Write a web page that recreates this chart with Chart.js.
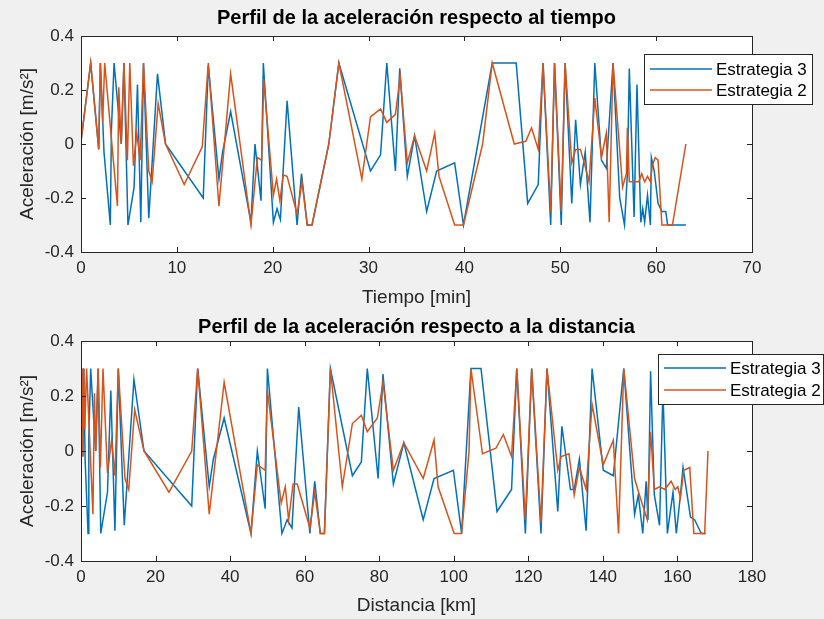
<!DOCTYPE html>
<html>
<head>
<meta charset="utf-8">
<script src="https://cdn.jsdelivr.net/npm/chart.js@4.4.0/dist/chart.umd.min.js"></script>
<style>
  html, body { margin: 0; padding: 0; background: #f0f0f0; }
  #wrap { position: relative; width: 824px; height: 619px; overflow: hidden; }
  canvas { position: absolute; left: 0; }
</style>
</head>
<body>
<div id="wrap">
  <canvas id="chart-tiempo" width="824" height="312" style="top:0"></canvas>
  <canvas id="chart-distancia" width="824" height="307" style="top:312px"></canvas>
</div>
<script>
// ── datos: [x, aceleración] ──
const tiempoE3 = [
  [0,0.01],[1.01,0.30],[1.85,-0.02],[2.02,0.30],[2.4,-0.03],[3.06,-0.30],[3.17,0.05],[3.45,0.30],[4.2,0.0],[4.48,0.30],
  [4.9,-0.30],[5.54,-0.16],[5.89,0.22],[6.24,-0.29],[6.52,0.30],[7.07,-0.275],[7.98,0.26],[8.82,0.0],[12.75,-0.20],[13.28,0.29],
  [14.39,-0.13],[14.77,-0.03],[15.61,0.12],[17.73,-0.29],[18.15,0.0],[18.78,-0.21],[19.02,0.30],[20.07,-0.29],[20.45,-0.24],[20.8,-0.28],
  [21.5,0.16],[22.54,-0.30],[23.0,-0.11],[23.6,-0.30],[24.1,-0.30],[25.85,0.0],[26.9,0.30],[30.2,-0.10],[31.25,-0.04],[31.9,0.30],
  [32.8,-0.10],[33.25,0.28],[34.04,-0.12],[34.8,0.03],[36.06,-0.25],[37.1,-0.10],[38.98,-0.07],[39.9,-0.30],[42.9,0.30],[45.4,0.30],
  [46.6,-0.22],[47.7,-0.15],[48.2,0.30],[49.0,-0.30],[49.4,0.30],[50.1,-0.30],[50.5,0.30],[51.2,-0.22],[51.6,0.09],[52.1,-0.15],
  [52.6,-0.03],[53.1,-0.29],[53.6,0.30],[54.3,-0.06],[54.8,-0.09],[55.5,0.30],[56.2,-0.20],[56.7,-0.30],[57.0,-0.11],[57.2,0.28],
  [57.7,-0.27],[58.0,0.22],[58.4,-0.29],[58.6,-0.24],[58.8,-0.29],[59.1,-0.19],[59.4,-0.30],[59.5,-0.05],[59.8,-0.10],[60.2,-0.22],
  [60.6,-0.25],[61.0,-0.25],[61.2,-0.30],[63.1,-0.30]
];
const tiempoE2 = [
  [0,0.01],[1.01,0.30],[1.85,-0.02],[2.02,0.30],[2.26,0.08],[2.47,0.30],[3.8,-0.23],[3.94,0.21],[4.2,0.0],[4.48,0.30],
  [4.84,-0.06],[5.09,0.30],[5.47,-0.08],[5.82,0.04],[6.17,-0.06],[6.52,0.30],[7.07,-0.10],[7.42,-0.14],[8.05,0.15],[8.82,0.0],
  [10.77,-0.15],[12.65,-0.01],[13.28,0.30],[14.39,-0.23],[15.61,0.26],[17.73,-0.30],[18.4,-0.05],[18.85,-0.06],[19.06,0.24],[20.07,-0.19],
  [20.4,-0.13],[20.75,-0.21],[21.1,-0.115],[21.5,-0.12],[22.54,-0.26],[23.06,-0.14],[23.6,-0.30],[24.1,-0.30],[25.85,0.0],[26.9,0.30],
  [29.3,-0.13],[30.2,0.10],[31.25,0.13],[31.9,0.08],[32.8,0.11],[33.3,0.25],[34.04,-0.07],[34.8,0.03],[36.06,-0.10],[36.9,0.04],
  [37.35,-0.12],[38.98,-0.30],[39.9,-0.30],[41.9,0.0],[42.9,0.30],[45.2,0.0],[46.4,0.01],[47.0,0.06],[47.7,-0.02],[48.2,0.30],
  [49.0,-0.25],[49.4,0.30],[50.1,-0.25],[50.5,0.30],[51.2,-0.07],[51.6,-0.02],[52.1,-0.02],[52.5,-0.07],[53.0,-0.14],[53.6,0.17],
  [54.3,-0.05],[54.8,0.04],[55.1,-0.29],[55.5,0.30],[56.5,-0.16],[56.9,-0.11],[57.0,0.06],[57.2,-0.14],[57.7,-0.14],[58.2,-0.14],
  [58.5,-0.11],[58.8,-0.14],[59.1,-0.12],[59.4,-0.14],[59.6,-0.08],[59.9,-0.05],[60.2,-0.06],[60.6,-0.30],[61.7,-0.30],[63.1,0.0]
];
const distE3 = [
  [0,0.01],[0.25,0.30],[0.5,-0.02],[0.75,0.30],[1.1,-0.03],[1.9,-0.30],[2.1,0.05],[2.6,0.30],[3.9,0.0],[4.6,0.30],
  [5.3,-0.30],[7.1,-0.15],[8.0,0.22],[9.1,-0.29],[10.0,0.30],[11.6,-0.27],[14.2,0.26],[16.9,0.0],[29.7,-0.20],[31.3,0.30],
  [34.4,-0.13],[35.5,-0.03],[38.4,0.12],[45.6,-0.30],[47.3,0.0],[49.4,-0.21],[50.0,0.30],[53.9,-0.30],[55.3,-0.25],[56.6,-0.28],
  [58.4,0.16],[61.4,-0.30],[62.7,-0.11],[64.2,-0.30],[65.3,-0.30],[66.9,0.30],[72.8,-0.09],[75.2,-0.04],[76.8,0.30],[79.7,-0.10],
  [81.0,0.28],[83.8,-0.12],[86.6,0.03],[91.8,-0.25],[94.7,-0.10],[99.9,-0.07],[102.1,-0.30],[104.6,0.30],[107.3,0.30],[111.6,-0.22],
  [115.5,-0.14],[116.9,0.30],[119.2,-0.30],[120.9,0.30],[123.4,-0.30],[125.0,0.30],[127.9,-0.22],[129.0,0.09],[131.3,-0.14],[132.3,-0.14],
  [133.7,-0.03],[135.5,-0.29],[137.1,0.30],[140.1,-0.07],[142.8,-0.09],[145.6,0.30],[148.5,-0.23],[149.5,-0.16],[150.7,-0.30],[151.6,-0.11],
  [152.1,-0.25],[152.8,0.29],[153.8,-0.16],[155.2,-0.27],[156.1,0.22],[157.3,-0.30],[158.8,-0.15],[159.7,-0.30],[160.8,-0.16],[161.5,-0.06],
  [163.5,-0.24],[164.6,-0.25],[166.4,-0.30],[167.6,-0.30]
];
const distE2 = [
  [0,0.01],[0.25,0.30],[0.5,-0.02],[0.75,0.30],[1.0,0.08],[1.5,0.30],[3.2,-0.23],[3.6,0.21],[4.0,0.0],[4.6,0.30],
  [5.2,-0.06],[5.9,0.30],[7.1,-0.08],[8.2,0.04],[9.1,-0.09],[10.0,0.30],[11.8,-0.10],[12.8,-0.14],[14.4,0.15],[16.9,0.0],
  [23.6,-0.15],[29.7,0.0],[31.3,0.30],[34.4,-0.23],[38.4,0.25],[45.6,-0.30],[47.3,-0.05],[49.4,-0.07],[50.0,0.22],[53.7,-0.19],
  [54.8,-0.13],[55.7,-0.25],[56.9,-0.12],[58.0,-0.12],[61.4,-0.28],[62.7,-0.15],[64.2,-0.30],[65.3,-0.30],[66.9,0.30],[70.1,-0.13],
  [72.8,0.10],[75.2,0.13],[76.8,0.07],[79.5,0.12],[81.0,0.25],[83.8,-0.07],[86.6,0.03],[91.8,-0.10],[94.7,0.04],[95.8,-0.13],
  [100.1,-0.30],[102.1,-0.30],[104.1,0.0],[104.6,0.30],[107.7,-0.01],[111.3,0.01],[113.3,0.06],[115.5,-0.02],[116.9,0.30],[119.2,-0.25],
  [120.9,0.30],[123.4,-0.26],[125.0,0.30],[127.9,-0.07],[128.8,-0.02],[130.9,-0.01],[132.3,-0.16],[133.7,-0.06],[135.5,-0.14],[137.1,0.17],
  [140.1,-0.05],[142.8,0.04],[144.2,-0.30],[145.6,0.30],[148.5,-0.10],[149.8,-0.16],[151.9,-0.25],[152.8,0.07],[153.8,-0.14],[155.2,-0.13],
  [156.6,-0.14],[158.3,-0.11],[159.4,-0.14],[160.1,-0.13],[160.8,-0.17],[161.7,-0.07],[163.3,-0.06],[164.4,-0.30],[167.3,-0.30],[168.2,0.0]
];
const series = ['Estrategia 3', 'Estrategia 2'];

const AZUL = '#0072BD';
const NARANJA = '#D95319';
const EJE = '#262626';
const FONT = "'Liberation Sans', Arial, Helvetica, sans-serif";

const toXY = arr => arr.map(p => ({ x: p[0], y: p[1] }));

/* ── caja estilo MATLAB: fondo blanco, marco, ticks hacia dentro y leyenda ── */
const ejesMatlab = {
  id: 'ejesMatlab',
  beforeDraw(chart) {
    const { ctx, chartArea: a } = chart;
    ctx.save();
    ctx.fillStyle = '#ffffff';
    ctx.fillRect(a.left, a.top, a.right - a.left, a.bottom - a.top);
    ctx.restore();
  },
  afterDraw(chart, args, opts) {
    const { ctx, chartArea: a, scales: { x, y } } = chart;
    ctx.save();
    ctx.strokeStyle = EJE;
    ctx.lineWidth = 1;
    ctx.beginPath();
    x.ticks.forEach(t => {
      const px = Math.round(x.getPixelForValue(t.value)) + 0.5;
      ctx.moveTo(px, a.bottom); ctx.lineTo(px, a.bottom - 5);
      ctx.moveTo(px, a.top); ctx.lineTo(px, a.top + 5);
    });
    y.ticks.forEach(t => {
      const py = Math.round(y.getPixelForValue(t.value)) + 0.5;
      ctx.moveTo(a.left, py); ctx.lineTo(a.left + 5, py);
      ctx.moveTo(a.right, py); ctx.lineTo(a.right - 5, py);
    });
    ctx.stroke();
    ctx.strokeRect(Math.round(a.left) + 0.5, Math.round(a.top) + 0.5,
      Math.round(a.right - a.left), Math.round(a.bottom - a.top));

    // leyenda
    const L = opts.legend;
    ctx.fillStyle = '#ffffff';
    ctx.fillRect(L.x, L.y, L.w, L.h);
    ctx.strokeRect(L.x + 0.5, L.y + 0.5, L.w, L.h);
    ctx.font = `17px ${FONT}`;
    ctx.textBaseline = 'middle';
    ctx.lineWidth = 1.5;
    const colors = [AZUL, NARANJA];
    series.forEach((name, i) => {
      const ry = L.y + L.rows[i];
      ctx.strokeStyle = colors[i];
      ctx.beginPath();
      ctx.moveTo(L.x + 6, ry); ctx.lineTo(L.x + 68, ry);
      ctx.stroke();
      ctx.fillStyle = '#000000';
      ctx.fillText(name, L.x + 72, ry + 1);
    });
    ctx.restore();
  }
};

function buildChart(id, cfg) {
  return new Chart(document.getElementById(id), {
    type: 'scatter',
    data: {
      datasets: [
        { label: series[0], data: toXY(cfg.e3), borderColor: AZUL, order: 1 },
        { label: series[1], data: toXY(cfg.e2), borderColor: NARANJA, order: 0 }
      ].map(d => ({ ...d, showLine: true, pointRadius: 0, borderWidth: 1.5, tension: 0, fill: false }))
    },
    options: {
      responsive: false,
      animation: false,
      events: [],
      layout: { padding: { left: 0, right: 72, top: 0, bottom: 0 } },
      plugins: {
        legend: { display: false },
        tooltip: { enabled: false },
        title: {
          display: true,
          fullSize: false,
          text: cfg.title,
          color: '#000000',
          font: { family: FONT, size: 20, weight: 'bold' },
          padding: cfg.titlePad
        },
        ejesMatlab: { legend: cfg.legend }
      },
      scales: {
        x: {
          type: 'linear',
          min: 0, max: cfg.xMax,
          grid: { display: false, drawTicks: false },
          border: { display: false },
          ticks: { stepSize: cfg.xStep, padding: 6, color: EJE, font: { family: FONT, size: 17 } },
          title: { display: true, text: cfg.xTitle, color: EJE, font: { family: FONT, size: 19 }, padding: { top: 0, bottom: cfg.xTitleBottom } },
          afterFit: s => { s.height = cfg.xHeight; }
        },
        y: {
          min: -0.4, max: 0.4,
          grid: { display: false, drawTicks: false },
          border: { display: false },
          ticks: { stepSize: 0.2, padding: 7, color: EJE, font: { family: FONT, size: 17 },
            callback: v => String(+v.toFixed(1)) },
          title: { display: true, text: 'Aceleración [m/s²]', color: EJE, font: { family: FONT, size: 19 }, padding: { top: 16, bottom: 0 } },
          afterFit: s => { s.width = 81; }
        }
      }
    },
    plugins: [ejesMatlab]
  });
}

buildChart('chart-tiempo', {
  e3: tiempoE3, e2: tiempoE2,
  title: 'Perfil de la aceleración respecto al tiempo',
  titlePad: { top: 6, bottom: 6 },
  xMax: 70, xStep: 10, xTitle: 'Tiempo [min]', xTitleBottom: 3, xHeight: 60,
  legend: { x: 644, y: 54, w: 168, h: 50, rows: [15, 36] }
});

buildChart('chart-distancia', {
  e3: distE3, e2: distE2,
  title: 'Perfil de la aceleración respecto a la distancia',
  titlePad: { top: 3, bottom: 2 },
  xMax: 180, xStep: 20, xTitle: 'Distancia [km]', xTitleBottom: 2, xHeight: 58,
  legend: { x: 658, y: 42, w: 165, h: 50, rows: [14, 36] }
});
</script>
</body>
</html>
